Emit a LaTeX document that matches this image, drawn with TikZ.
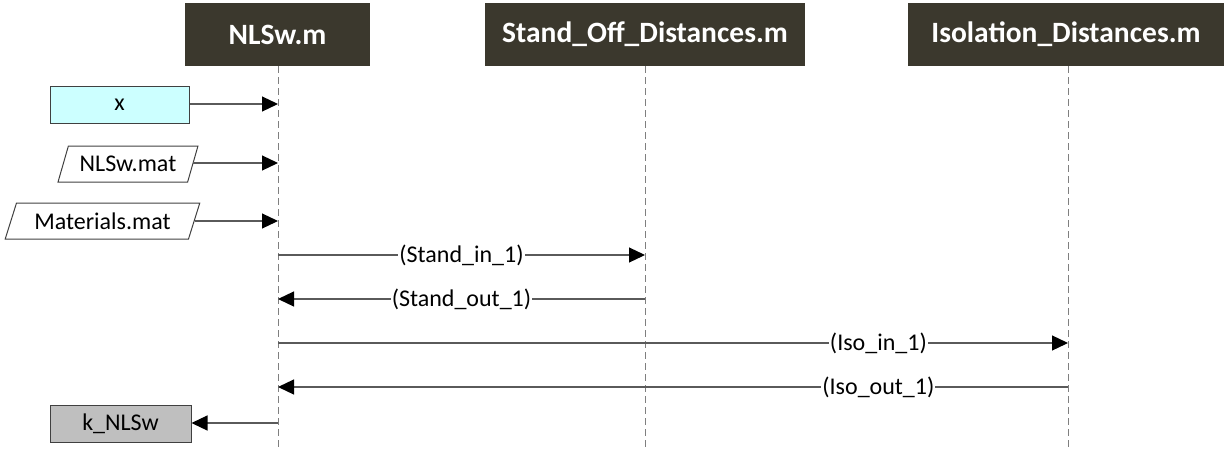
\documentclass[tikz,border=0pt]{standalone}
\usepackage{fontspec}
\setmainfont{Carlito}
\usetikzlibrary{arrows.meta,shapes.geometric,calc}
\definecolor{headfill}{HTML}{3B382D}
\definecolor{linegray}{HTML}{5A5A5A}
\definecolor{lifegray}{HTML}{7F7F7F}
\definecolor{inputcyan}{HTML}{CCFFFF}
\definecolor{outputgray}{HTML}{BFBFBF}
\tikzset{
  header/.style={fill=headfill, text=white, font=\fontsize{29.5}{32}\selectfont\bfseries,
    minimum height=63pt, inner sep=0pt},
  lifeline/.style={draw=lifegray, line width=0.9pt, dash pattern=on 7pt off 4pt},
  msg/.style={draw=linegray, line width=1.2pt, -{Triangle[length=16pt,width=15pt,color=black]}},
  lbl/.style={fill=white, inner sep=1pt, font=\fontsize{24}{27}\selectfont},
  databox/.style={draw=black!75, line width=1pt, minimum height=37pt, inner sep=0pt,
    font=\fontsize{24}{27}\selectfont},
  filebox/.style={draw=black!75, line width=1pt, shape=trapezium,
    trapezium left angle=62, trapezium right angle=118, trapezium stretches=true,
    minimum height=36pt, inner sep=0pt, font=\fontsize{24}{27}\selectfont}
}
\begin{document}
\begin{tikzpicture}[x=1pt, y=-1pt]
\useasboundingbox (0,0) rectangle (1225,450);

% participants
\node[header, minimum width=185pt] (hN) at (277.5,34.5) {NLSw.m};
\node[header, minimum width=320pt] (hS) at (645,34.5) {Stand\_Off\_Distances.m};
\node[header, minimum width=316pt] (hI) at (1066,34.5) {Isolation\_Distances.m};

% ends of the lifelines
\coordinate (eN) at (278,450);
\coordinate (eS) at (645,450);
\coordinate (eI) at (1068,450);
\draw[lifeline] (hN.south -| eN) -- (eN);
\draw[lifeline] (hS.south -| eS) -- (eS);
\draw[lifeline] (hI.south -| eI) -- (eI);

% points on the lifelines
\coordinate (nx)  at (278,104);
\coordinate (nf)  at (278,163);
\coordinate (nm)  at (278,221);
\coordinate (ns1) at (278,255);
\coordinate (ss1) at (645,255);
\coordinate (ns2) at (278,299);
\coordinate (ss2) at (645,299);
\coordinate (ni1) at (278,343);
\coordinate (ii1) at (1068,343);
\coordinate (ni2) at (278,387);
\coordinate (ii2) at (1068,387);
\coordinate (nk)  at (278,423);

% inputs
\node[databox, fill=inputcyan, minimum width=139pt] (x) at (119.5,104.5) {x};
\node[filebox, minimum width=140pt] (fN) at (128,164) {NLSw.mat};
\node[filebox, minimum width=195pt] (fM) at (102.5,221) {Materials.mat};
% output
\node[databox, fill=outputgray, minimum width=141pt] (k) at (120.5,423.5) {k\_NLSw};

\draw[msg] (x.east |- nx) -- (nx);
\draw[msg] (fN.east |- nf) -- (nf);
\draw[msg] (fM.east |- nm) -- (nm);
\draw[msg] (nk) -- (k.east |- nk);

% calls between the scripts
\draw[msg] (ns1) -- node[lbl] (l1) {(Stand\_in\_1)} (ss1);
\draw[msg] (ss2) -- node[lbl] (l2) {(Stand\_out\_1)} (ns2);
\draw[msg] (ni1) -- node[lbl, pos=0.76] (l3) {(Iso\_in\_1)} (ii1);
\draw[msg] (ii2) -- node[lbl, pos=0.24] (l4) {(Iso\_out\_1)} (ni2);
\end{tikzpicture}
\end{document}
